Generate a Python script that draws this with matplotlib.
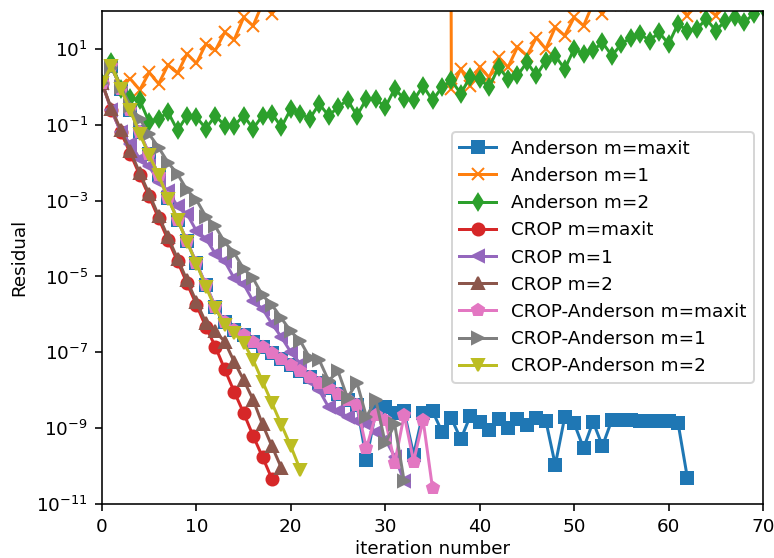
import numpy as np
import matplotlib
matplotlib.use("Agg")
import matplotlib.pyplot as plt

# log10 of residual per iteration
anderson_maxit = [0.1, 0.55, -0.05, -0.62, -1.2, -1.78, -2.33, -2.92, -3.5, -4.07,
                  -4.65, -5.22, -5.8, -6.2, -6.4, -6.55, -6.72, -6.87, -7.02, -7.18,
                  -7.33, -7.48, -7.64, -7.8, -7.95, -8.1, -8.25, -8.4, -9.83, -8.55,
                  -8.45, -8.6, -8.56, -9.7, -8.6, -8.55, -9.09, -8.74, -9.29, -8.68,
                  -8.83, -9.04, -8.76, -9.0, -8.76, -8.91, -8.74, -8.8, -9.97, -8.71,
                  -8.87, -9.53, -8.83, -9.47, -8.78, -8.78, -8.79, -8.8, -8.8, -8.81,
                  -8.82, -8.86, -10.32]
anderson_m1 = [0.1, 0.5, 0.05, 0.21, -0.08, 0.38, 0.08, 0.58, 0.36, 0.87,
               0.62, 1.13, 0.96, 1.44, 1.24, 1.83, 1.61, 2.2, 1.92, 2.6,
               2.4, 3.1, 3.0, 3.8, 4.0, 5.0, 5.5, 7.0, 8.0, 10.5,
               12.0, 16.0, 20.0, 28.0, 36.0, 52.0, 80.0, -0.05, 0.47, 0.03,
               0.52, 0.25, 0.78, 0.52, 1.05, 0.82, 1.3, 1.0, 1.57, 1.35,
               1.83, 1.61, 2.2, 1.92, 2.4, 2.15, 2.5, 2.2, 2.6, 2.3,
               2.5, 2.2, 1.88, 2.3, 2.1, 1.88, 2.4, 2.2, 2.6, 2.4, 2.8]
anderson_m2 = [0.1, 0.65, -0.05, -0.3, -0.36, -0.93, -0.84, -0.67, -1.15, -0.76,
               -0.8, -1.1, -0.76, -1.02, -1.02, -0.76, -1.1, -0.76, -0.71, -1.06,
               -0.58, -0.71, -0.84, -0.45, -0.76, -0.54, -0.34, -0.76, -0.32, -0.32,
               -0.54, -0.05, -0.32, -0.36, 0.03, -0.36, -0.01, 0.17, -0.18, 0.27,
               0.21, -0.01, 0.52, 0.21, 0.3, 0.65, 0.3, 0.69, 0.82, 0.47,
               1.0, 0.87, 0.96, 1.17, 0.82, 1.13, 1.3, 1.39, 1.22, 1.44,
               1.13, 1.66, 1.48, 1.53, 1.79, 1.48, 1.74, 1.83, 1.7, 1.92, 2.1]
crop_maxit = [0.1, -0.62, -1.19, -1.76, -2.33, -2.89, -3.47, -4.04, -4.6, -5.18,
              -5.75, -6.33, -6.85, -7.45, -8.04, -8.6, -9.2, -9.76, -10.34]
crop_m1 = [0.1, -0.6, -1.2, -1.5, -1.9, -2.1, -2.5, -2.75, -3.15, -3.35,
           -3.8, -4.0, -4.4, -4.6, -5.05, -5.2, -5.65, -5.85, -6.25, -6.6,
           -7.0, -7.3, -7.75, -8.0, -8.45, -8.55, -8.7, -8.8, -8.9, -9.1,
           -9.3, -9.75, -10.4]
crop_m2 = [0.1, -0.58, -1.14, -1.7, -2.27, -2.83, -3.4, -3.97, -4.53, -5.1,
           -5.67, -6.22, -6.45, -6.72, -7.25, -7.73, -8.25, -8.9, -9.48, -10.05]
crop_anderson_maxit = [0.1, 0.55, -0.05, -0.62, -1.2, -1.78, -2.33, -2.92, -3.5, -4.07,
                       -4.65, -5.22, -5.8, -6.2, -6.4, -6.55, -6.72, -6.87, -7.02, -7.18,
                       -7.33, -7.48, -7.64, -7.8, -7.95, -8.1, -8.25, -8.4, -9.53, -8.65,
                       -8.78, -9.92, -8.65, -9.88, -8.78, -10.58]
crop_anderson_m1 = [0.1, 0.5, 0.0, -0.5, -0.85, -1.25, -1.6, -2.0, -2.3, -2.72,
                    -2.98, -3.42, -3.68, -4.1, -4.38, -4.8, -5.05, -5.5, -5.75, -6.1,
                    -6.45, -6.7, -7.15, -7.2, -7.75, -7.5, -8.2, -7.8, -8.7, -8.25,
                    -9.4, -8.9, -10.4]
crop_anderson_m2 = [0.1, 0.56, -0.05, -0.62, -1.24, -1.81, -2.33, -2.95, -3.5, -4.09,
                    -4.66, -5.27, -5.84, -6.28, -6.5, -6.75, -7.2, -7.77, -8.34, -8.91,
                    -9.48, -10.1]

series = [
    ("Anderson m=maxit", anderson_maxit, "s"),
    ("Anderson m=1", anderson_m1, "x"),
    ("Anderson m=2", anderson_m2, "d"),
    ("CROP m=maxit", crop_maxit, "o"),
    ("CROP m=1", crop_m1, "<"),
    ("CROP m=2", crop_m2, "^"),
    ("CROP-Anderson m=maxit", crop_anderson_maxit, "p"),
    ("CROP-Anderson m=1", crop_anderson_m1, ">"),
    ("CROP-Anderson m=2", crop_anderson_m2, "v"),
]

plt.rcParams["font.size"] = 9.2

fig = plt.figure(figsize=(774 / 144, 558 / 144), dpi=144)
ax = fig.add_axes([102 / 774, 54 / 558, 661 / 774, 493 / 558])

for label, vals, mk in series:
    y = np.power(10.0, np.array(vals, dtype=float))
    x = np.arange(len(vals))
    ax.semilogy(x, y, marker=mk, label=label)

ax.set_xlim(0, 70)
ax.set_ylim(1e-11, 1e2)
ax.set_xlabel("iteration number", labelpad=2)
ax.set_ylabel("Residual")
ax.legend(loc="center right")

fig.savefig("out.png", dpi=144)
